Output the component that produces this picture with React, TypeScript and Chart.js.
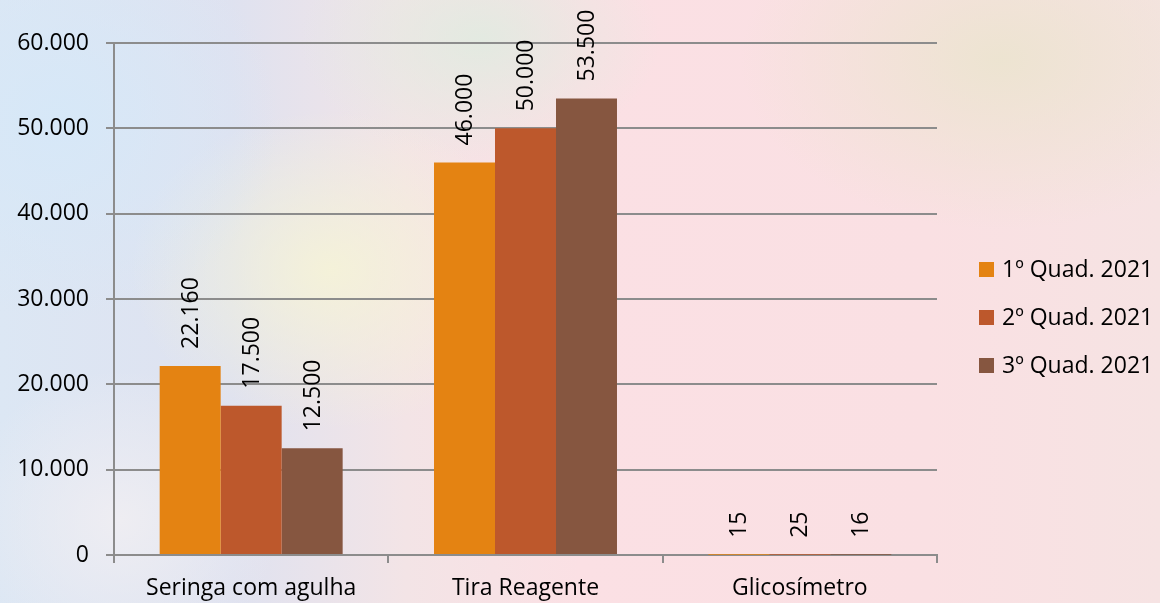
import React, { useEffect, useRef } from "react";
import { Chart, registerables } from "chart.js";

Chart.register(...registerables);

const categories = ["Seringa com agulha", "Tira Reagente", "Glicosímetro"];
const seriesNames = ["1º Quad. 2021", "2º Quad. 2021", "3º Quad. 2021"];
const q1 = [22160, 46000, 15];
const q2 = [17500, 50000, 25];
const q3 = [12500, 53500, 16];
const seriesColors = ["#E48312", "#BD582C", "#865640"];
const yMax = 60000;
const yStep = 10000;

const FONT = "'Open Sans', sans-serif";
const FONT_SIZE = 23;
const GRID = "#8c8c8c";

function fmt(v: number): string {
  return String(Math.round(v)).replace(/\B(?=(\d{3})+(?!\d))/g, ".");
}

const labelsPlugin = {
  id: "valueLabels",
  afterDatasetsDraw(chart: any) {
    const ctx = chart.ctx;
    ctx.save();
    ctx.fillStyle = "#000";
    ctx.font = `${FONT_SIZE}px ${FONT}`;
    chart.data.datasets.forEach((ds: any, di: number) => {
      const meta = chart.getDatasetMeta(di);
      meta.data.forEach((bar: any, i: number) => {
        const v = ds.data[i];
        ctx.save();
        ctx.translate(bar.x, bar.y - 17);
        ctx.rotate(-Math.PI / 2);
        ctx.textAlign = "left";
        ctx.textBaseline = "middle";
        ctx.fillText(fmt(v), 0, 1);
        ctx.restore();
      });
    });
    ctx.restore();
  },
};

const legendPlugin = {
  id: "customLegend",
  afterDraw(chart: any) {
    const ctx = chart.ctx;
    const x0 = chart.chartArea.right + 42;
    const yc = [269.5, 317.5, 365.5];
    ctx.save();
    ctx.font = `${FONT_SIZE}px ${FONT}`;
    ctx.textBaseline = "middle";
    ctx.textAlign = "left";
    seriesNames.forEach((name, i) => {
      ctx.fillStyle = seriesColors[i];
      ctx.fillRect(x0, yc[i] - 7.5, 15, 15);
      ctx.fillStyle = "#000";
      ctx.fillText(name, x0 + 23, yc[i] + 1);
    });
    ctx.restore();
  },
};

export default function App() {
  const ref = useRef<HTMLCanvasElement | null>(null);
  useEffect(() => {
    if (!ref.current) return;
    const chart = new Chart(ref.current, {
      type: "bar",
      data: {
        labels: categories,
        datasets: [q1, q2, q3].map((d, i) => ({
          label: seriesNames[i],
          data: d,
          backgroundColor: seriesColors[i],
          borderWidth: 0,
          categoryPercentage: 0.667,
          barPercentage: 1.0,
        })),
      },
      options: {
        animation: false,
        responsive: false,
        maintainAspectRatio: false,
        layout: { padding: { left: 0, right: 223, top: 43, bottom: 0 } },
        plugins: {
          legend: { display: false },
          tooltip: { enabled: false },
        },
        scales: {
          x: {
            grid: {
              display: true,
              drawOnChartArea: false,
              drawTicks: true,
              tickLength: 8,
              color: GRID,
              lineWidth: 2,
              offset: true,
            },
            border: { display: true, color: GRID, width: 2 },
            ticks: {
              color: "#000",
              font: { family: FONT, size: FONT_SIZE },
              padding: 12,
              maxRotation: 0,
              autoSkip: false,
            },
            afterFit(scale: any) {
              scale.height = 48;
            },
          },
          y: {
            min: 0,
            max: yMax,
            ticks: {
              stepSize: yStep,
              color: "#000",
              font: { family: FONT, size: FONT_SIZE },
              padding: 17,
              callback: (v: any) => fmt(Number(v)),
            },
            grid: {
              color: GRID,
              lineWidth: 2,
              tickLength: 8,
              drawTicks: true,
            },
            border: { display: true, color: GRID, width: 2 },
            afterFit(scale: any) {
              scale.width = 114;
            },
          },
        },
      },
      plugins: [labelsPlugin, legendPlugin],
    });
    return () => chart.destroy();
  }, []);

  const bg = [
    "radial-gradient(ellipse 220px 200px at 60px 120px, rgba(214,232,248,0.95), rgba(214,232,248,0) 100%)",
    "radial-gradient(ellipse 200px 160px at 330px 270px, rgba(246,244,214,0.85), rgba(246,244,214,0) 100%)",
    "radial-gradient(ellipse 180px 120px at 480px 40px, rgba(222,236,224,0.8), rgba(222,236,224,0) 100%)",
    "radial-gradient(ellipse 260px 170px at 1000px 60px, rgba(236,228,208,0.95), rgba(236,228,208,0) 100%)",
    "radial-gradient(ellipse 160px 150px at 120px 520px, rgba(240,238,242,0.9), rgba(240,238,242,0) 100%)",
    "linear-gradient(90deg, #dce7f4 0%, #dfe2f0 20%, #f3e4e6 35%, #fbe0e4 50%, #fae0e3 80%, #f6e3e3 100%)",
  ].join(", ");

  return (
    <div
      style={{
        position: "fixed",
        left: 0,
        top: 0,
        width: 1160,
        height: 603,
        background: bg,
        overflow: "hidden",
      }}
    >
      <canvas ref={ref} width={1160} height={603} style={{ display: "block" }} />
    </div>
  );
}
